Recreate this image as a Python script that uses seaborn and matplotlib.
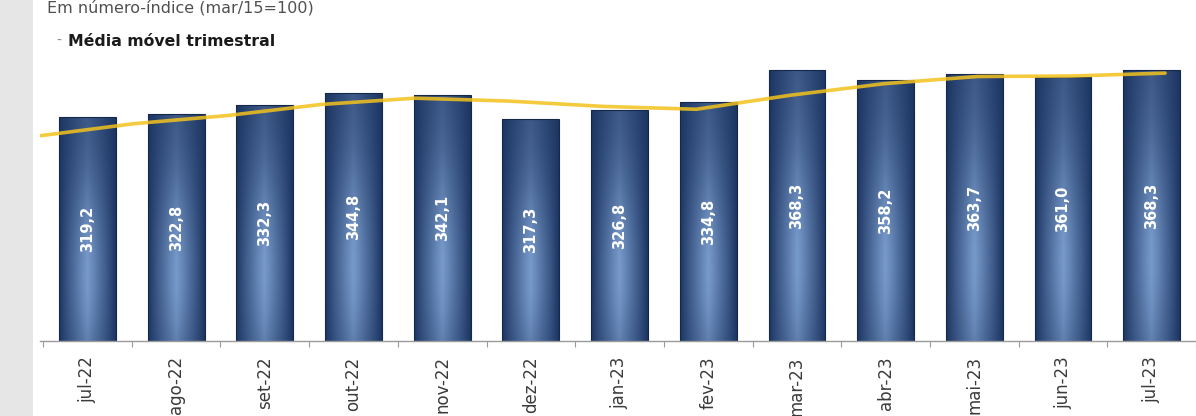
import numpy as np
import pandas as pd
import matplotlib
matplotlib.use("Agg")
import matplotlib.pyplot as plt
from matplotlib.patches import Rectangle
import seaborn as sns

# ---- data ----
meses = ["jul-22", "ago-22", "set-22", "out-22", "nov-22", "dez-22", "jan-23",
         "fev-23", "mar-23", "abr-23", "mai-23", "jun-23", "jul-23"]
indice = [319.2, 322.8, 332.3, 344.8, 342.1, 317.3, 326.8,
          334.8, 368.3, 358.2, 363.7, 361.0, 368.3]
media_movel = [300.0, 312.5, 321.0, 332.5, 339.0, 336.0, 330.5,
               327.5, 342.0, 354.0, 361.5, 362.0, 365.0]
titulo = "Em número-índice (mar/15=100)"
legenda = "Média móvel trimestral"

W, H = 1196, 416
Y_MIN, Y_MAX = 87, 389

sns.set_theme(style="white")
plt.rcParams["font.family"] = ["DejaVu Sans"]

fig = plt.figure(figsize=(W / 100, H / 100), dpi=100)
fig.patch.set_facecolor("white")
fig.patches.append(Rectangle((0, 0), 33 / W, 1, transform=fig.transFigure,
                             facecolor="#e6e6e6", edgecolor="none", zorder=0))

ax = fig.add_axes([40 / W, (H - 341) / H, (W - 40) / W, (341 - 50) / H])
ax.set_facecolor("none")

df = pd.DataFrame({"mes": meses, "indice": indice})
sns.barplot(data=df, x="mes", y="indice", color="#27457a", width=0.64,
            ax=ax, saturation=1)

# gradient fill for each bar
dark = np.array([0x1c, 0x35, 0x62]) / 255
light = np.array([0x78, 0x9b, 0xcc]) / 255
nx, ny = 60, 120
u = np.linspace(0, 1, nx)[None, :]
v = np.linspace(0, 1, ny)[:, None]
hz = (1 - np.abs(2 * u - 1)) ** 0.9
vf = 0.3 + 0.7 * np.exp(-((v - 0.3) / 0.45) ** 2)
t = np.clip(hz * vf, 0, 1)
img = dark[None, None, :] * (1 - t[..., None]) + light[None, None, :] * t[..., None]

for p in ax.patches:
    x0, y0 = p.get_x(), Y_MIN
    x1, y1 = p.get_x() + p.get_width(), p.get_y() + p.get_height()
    im = ax.imshow(img, extent=[x0, x1, y0, y1], origin="lower", aspect="auto",
                   zorder=p.get_zorder() - 0.1, interpolation="bilinear")
    im.set_clip_path(p)
    p.set_facecolor("none")
    p.set_edgecolor("#16284a")
    p.set_linewidth(0.8)

# value labels
for p, val in zip(ax.patches, indice):
    xc = p.get_x() + p.get_width() / 2
    ax.text(xc, (Y_MIN + val) / 2, f"{val:.1f}".replace(".", ","),
            rotation=90, ha="center", va="center", color="white",
            fontsize=10.5, fontweight="bold", zorder=5)

ax.set_xlim(-0.535, 12.38)
ax.set_ylim(Y_MIN, Y_MAX)
ax.set_xlabel("")
ax.set_ylabel("")
ax.set_yticks([])
for s in ["left", "right", "top"]:
    ax.spines[s].set_visible(False)
ax.spines["bottom"].set_color("#9a9a9a")
ax.spines["bottom"].set_linewidth(1.0)
ax.set_xticks(np.arange(len(meses)))
ax.set_xticklabels(meses, rotation=90, fontsize=12, color="#3a3a3a")
ax.set_xticks(np.arange(-0.5, len(meses), 1), minor=True)
ax.tick_params(axis="x", which="major", length=0, pad=11)
ax.tick_params(axis="x", which="minor", length=4, width=0.8, color="#9a9a9a",
               direction="out", bottom=True)

# moving average line on a twin x axis
ax2 = ax.twiny()
sns.lineplot(x=np.arange(len(media_movel)), y=media_movel, ax=ax2,
             color="#f3c21c", linewidth=2.6, alpha=0.85)
ax2.set_xlim(0, 12.33)
ax2.set_ylim(Y_MIN, Y_MAX)
ax2.axis("off")

# title and legend text
fig.text(47 / W, 1 - 8 / H, titulo, ha="left", va="center",
         fontsize=11.5, color="#505050")
fig.text(56 / W, 1 - 41 / H, "-", ha="left", va="center",
         fontsize=10, color="#8a8a8a")
fig.text(68 / W, 1 - 42 / H, legenda, ha="left", va="center",
         fontsize=11.3, fontweight="bold", color="#1a1a1a")

fig.savefig("out.png", dpi=100, facecolor="white")
